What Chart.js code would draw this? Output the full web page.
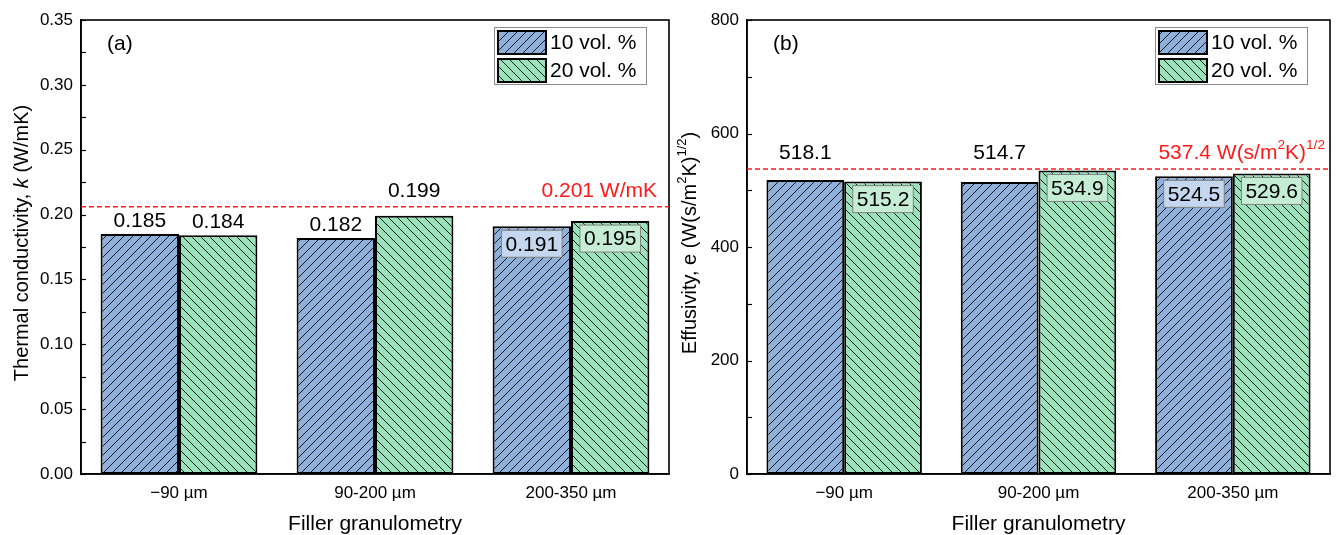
<!DOCTYPE html>
<html>
<head>
<meta charset="utf-8">
<script src="https://cdn.jsdelivr.net/npm/chart.js@4.4.0/dist/chart.umd.min.js"></script>
<style>
  html, body { margin: 0; padding: 0; background: #fff; }
  #wrap { position: relative; width: 1338px; height: 535px; }
  #c1 { position: absolute; left: 0; top: 0; }
  #c2 { position: absolute; left: 672px; top: 0; }
</style>
</head>
<body>
<div id="wrap">
  <canvas id="c1" width="672" height="535"></canvas>
  <canvas id="c2" width="666" height="535"></canvas>
</div>
<script>
// data
const categories = ['\u221290 \u00b5m', '90-200 \u00b5m', '200-350 \u00b5m'];
const seriesNames = ['10 vol. %', '20 vol. %'];

const k10 = [0.185, 0.182, 0.191];
const k20 = [0.184, 0.199, 0.195];
const kRef = 0.206;           // dashed line as drawn
const kRefText = '0.201 W/mK';
const kTicks = [0, 0.35, 0.05];

const e10 = [518.1, 514.7, 524.5];
const e20 = [515.2, 534.9, 529.6];
const eRef = 537.4;
const eTicks = [0, 800, 200];

const FONT = "'Liberation Sans', Arial, sans-serif";
const BLUE = 'rgb(143,176,218)';
const GREEN = 'rgb(153,226,186)';
const BLUE_BOX = 'rgb(196,215,238)';
const GREEN_BOX = 'rgb(197,236,212)';

// hatched fill, dir 1 = "/", -1 = "\"
const hatch = (ctx, color, dir) => {
    const s = 9;
    const c = document.createElement('canvas');
    c.width = s; c.height = s;
    const g = c.getContext('2d');
    g.fillStyle = color;
    g.fillRect(0, 0, s, s);
    g.strokeStyle = '#1a1a1a';
    g.lineWidth = 1;
    g.beginPath();
    if (dir > 0) {
        g.moveTo(-1, s + 1); g.lineTo(s + 1, -1);
        g.moveTo(-1, 1); g.lineTo(1, -1);
        g.moveTo(s - 1, s + 1); g.lineTo(s + 1, s - 1);
    } else {
        g.moveTo(-1, -1); g.lineTo(s + 1, s + 1);
        g.moveTo(s - 1, -1); g.lineTo(s + 1, 1);
        g.moveTo(-1, s - 1); g.lineTo(1, s + 1);
    }
    g.stroke();
    return ctx.createPattern(c, 'repeat');
};

// text made of pieces (italic / superscript)
const richWidth = (ctx, segs, size) => {
    let w = 0;
    segs.forEach(sg => {
        const fs = sg.sup ? size * 0.65 : size;
        ctx.font = (sg.it ? 'italic ' : '') + fs + 'px ' + FONT;
        w += ctx.measureText(sg.t).width;
    });
    return w;
};

const drawRich = (ctx, segs, x, y, size, align, color) => {
    const w = richWidth(ctx, segs, size);
    let cx = align === 'center' ? x - w / 2 : align === 'right' ? x - w : x;
    ctx.fillStyle = color;
    ctx.textAlign = 'left';
    ctx.textBaseline = 'middle';
    segs.forEach(sg => {
        const fs = sg.sup ? size * 0.65 : size;
        ctx.font = (sg.it ? 'italic ' : '') + fs + 'px ' + FONT;
        ctx.fillText(sg.t, cx, y - (sg.sup ? size * 0.38 : 0));
        cx += ctx.measureText(sg.t).width;
    });
};

const overlay = {
    id: 'overlay',
    afterDraw(chart, args, o) {
        const ctx = chart.ctx;
        const a = chart.chartArea;
        const ys = chart.scales.y;
        ctx.save();

        // inward ticks, major and minor
        ctx.strokeStyle = '#000';
        ctx.lineWidth = 1.2;
        const step = o.step / 2;
        for (let v = ys.min; v <= ys.max + step / 10; v += step) {
            const py = Math.round(ys.getPixelForValue(v)) + 0.5;
            ctx.beginPath();
            ctx.moveTo(a.left, py);
            ctx.lineTo(a.left + 5, py);
            ctx.stroke();
        }

        // frame
        ctx.lineWidth = 1.6;
        ctx.strokeRect(a.left, a.top, a.right - a.left, a.bottom - a.top);

        // reference line
        const refY = ys.getPixelForValue(o.ref);
        ctx.strokeStyle = '#ff1a1a';
        ctx.lineWidth = 1.6;
        ctx.setLineDash([5, 3]);
        ctx.beginPath();
        ctx.moveTo(a.left, refY);
        ctx.lineTo(a.right, refY);
        ctx.stroke();
        ctx.setLineDash([]);
        drawRich(ctx, o.refSegs, a.right - o.refGap, refY - 16, 21, 'right', '#ff1a1a');

        // value labels
        chart.data.datasets.forEach((ds, i) => {
            const meta = chart.getDatasetMeta(i);
            meta.data.forEach((bar, j) => {
                const txt = ds.data[j].toFixed(o.decimals);
                ctx.font = '21px ' + FONT;
                ctx.textAlign = 'center';
                ctx.textBaseline = 'middle';
                if (o.inside[i][j]) {
                    const w = ctx.measureText(txt).width + 8;
                    const h = 27;
                    const by = bar.y + 4;
                    ctx.fillStyle = i === 0 ? BLUE_BOX : GREEN_BOX;
                    ctx.fillRect(bar.x - w / 2, by, w, h);
                    ctx.strokeStyle = '#808080';
                    ctx.lineWidth = 1;
                    ctx.strokeRect(bar.x - w / 2, by, w, h);
                    ctx.fillStyle = '#000';
                    ctx.fillText(txt, bar.x, by + h / 2 + 1);
                } else {
                    let cy = bar.y - 13;
                    // lift above the dashed line when they would cross
                    if (cy - 11 < refY + 1 && cy + 11 > refY - 2) cy = refY - 16;
                    ctx.fillStyle = '#000';
                    ctx.fillText(txt, bar.x, cy);
                }
            });
        });

        // legend
        const lw = 152, lh = 57;
        const lx = a.right - 23 - lw, ly = a.top + 7;
        ctx.fillStyle = '#fff';
        ctx.fillRect(lx, ly, lw, lh);
        ctx.strokeStyle = '#8c8c8c';
        ctx.lineWidth = 1;
        ctx.strokeRect(lx + 0.5, ly + 0.5, lw, lh);
        chart.data.datasets.forEach((ds, i) => {
            const sy = ly + 4 + i * 28;
            ctx.fillStyle = ds.backgroundColor;
            ctx.fillRect(lx + 4, sy, 48, 23);
            ctx.strokeStyle = '#000';
            ctx.lineWidth = 2;
            ctx.strokeRect(lx + 4, sy, 48, 23);
            ctx.fillStyle = '#000';
            ctx.font = '21px ' + FONT;
            ctx.textAlign = 'left';
            ctx.textBaseline = 'middle';
            ctx.fillText(ds.label, lx + 56, sy + 12);
        });

        // panel letter
        ctx.font = '21px ' + FONT;
        ctx.textAlign = 'left';
        ctx.fillText(o.letter, a.left + 26, a.top + 24);

        // axis titles
        ctx.translate(o.yTitleX, (a.top + a.bottom) / 2 - 4);
        ctx.rotate(-Math.PI / 2);
        drawRich(ctx, o.yTitle, 0, 0, 20, 'center', '#000');
        ctx.setTransform(1, 0, 0, 1, 0, 0);
        drawRich(ctx, [{ t: 'Filler granulometry' }], (a.left + a.right) / 2, 524, 21, 'center', '#000');

        ctx.restore();
    }
};

const makeChart = (id, v10, v20, ticks, cfg) => {
    const canvas = document.getElementById(id);
    const ctx = canvas.getContext('2d');
    return new Chart(ctx, {
        type: 'bar',
        data: {
            labels: categories,
            datasets: [
                { label: seriesNames[0], data: v10, backgroundColor: hatch(ctx, BLUE, 1) },
                { label: seriesNames[1], data: v20, backgroundColor: hatch(ctx, GREEN, -1) }
            ]
        },
        options: {
            responsive: false,
            animation: false,
            layout: { padding: { top: 20, right: cfg.padRight, left: 0, bottom: 0 } },
            datasets: {
                bar: {
                    categoryPercentage: 0.8,
                    barPercentage: 1.0,
                    borderColor: '#000',
                    borderWidth: 2,
                    borderSkipped: false
                }
            },
            scales: {
                x: {
                    grid: { display: false, drawTicks: false },
                    border: { display: true, color: '#000', width: 1.6 },
                    ticks: { color: '#000', font: { family: FONT, size: 17 }, padding: 9 },
                    afterFit: s => { s.height = 61; }
                },
                y: {
                    min: ticks[0],
                    max: ticks[1],
                    grid: { display: false, drawTicks: false },
                    border: { display: true, color: '#000', width: 1.6 },
                    ticks: {
                        stepSize: ticks[2],
                        color: '#000',
                        padding: 8,
                        font: { family: FONT, size: 17 },
                        callback: v => v.toFixed(cfg.tickDecimals)
                    },
                    afterFit: s => { s.width = cfg.axisW; }
                }
            },
            plugins: {
                legend: { display: false },
                tooltip: { enabled: false },
                overlay: {
                    step: ticks[2],
                    ref: cfg.ref,
                    refSegs: cfg.refSegs,
                    refGap: cfg.refGap,
                    decimals: cfg.decimals,
                    inside: cfg.inside,
                    letter: cfg.letter,
                    yTitle: cfg.yTitle,
                    yTitleX: cfg.yTitleX
                }
            }
        },
        plugins: [overlay]
    });
};

makeChart('c1', k10, k20, kTicks, {
    padRight: 3,
    axisW: 81,
    tickDecimals: 2,
    decimals: 3,
    ref: kRef,
    refSegs: [{ t: kRefText }],
    refGap: 12,
    inside: [[false, false, true], [false, false, true]],
    letter: '(a)',
    yTitle: [{ t: 'Thermal conductivity, ' }, { t: 'k', it: true }, { t: ' (W/mK)' }],
    yTitleX: 22
});

makeChart('c2', e10, e20, eTicks, {
    padRight: 8,
    axisW: 75,
    tickDecimals: 0,
    decimals: 1,
    ref: eRef,
    refSegs: [{ t: eRef.toFixed(1) + ' W(s/m' }, { t: '2', sup: true }, { t: 'K)' }, { t: '1/2', sup: true }],
    refGap: 5,
    inside: [[false, false, true], [true, true, true]],
    letter: '(b)',
    yTitle: [{ t: 'Effusivity, e (W(s/m' }, { t: '2', sup: true }, { t: 'K)' }, { t: '1/2', sup: true }, { t: ')' }],
    yTitleX: 18
});
</script>
</body>
</html>
